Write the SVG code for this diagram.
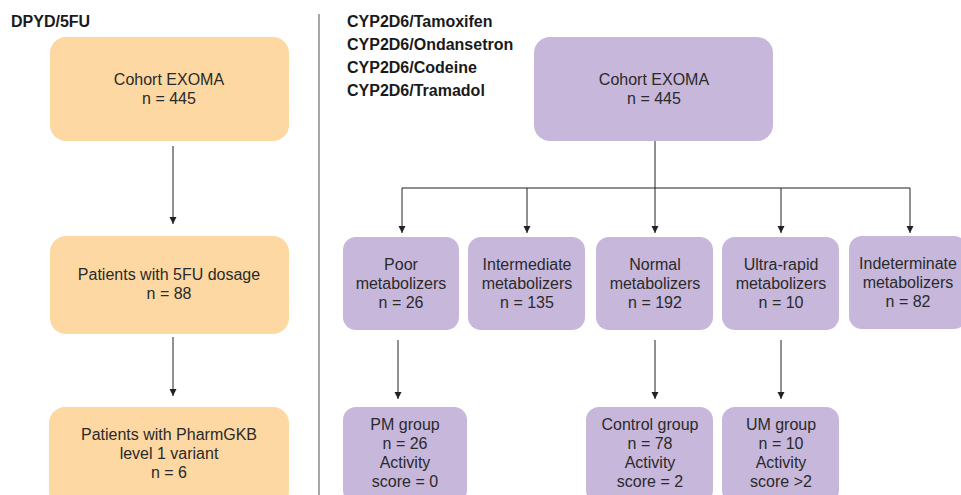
<svg xmlns="http://www.w3.org/2000/svg" width="961" height="495" viewBox="0 0 961 495">
<style>
.or{fill:#FDD8A2;}
.pu{fill:#C6B7DB;}
.t{font-family:"Liberation Sans",Arial,sans-serif;font-size:16px;fill:#2a2a2a;text-anchor:middle;}
.h{font-family:"Liberation Sans",Arial,sans-serif;font-size:16px;font-weight:bold;fill:#1a1a1a;}
.c{stroke:#222;stroke-width:1;fill:none;}
</style>
<defs>
<marker id="ah" viewBox="0 0 10 10" refX="10" refY="5" markerWidth="7" markerHeight="9" markerUnits="userSpaceOnUse" orient="auto">
<path d="M0,0 L10,5 L0,10 Z" fill="#222"/>
</marker>
</defs>
<rect width="961" height="495" fill="#fff"/>
<line x1="319" y1="14" x2="319" y2="495" stroke="#777" stroke-width="1.3"/>
<text class="h" x="11" y="27">DPYD/5FU</text>
<text class="h" x="347" y="27">CYP2D6/Tamoxifen</text>
<text class="h" x="347" y="50">CYP2D6/Ondansetron</text>
<text class="h" x="347" y="73">CYP2D6/Codeine</text>
<text class="h" x="347" y="96">CYP2D6/Tramadol</text>
<g id="connectors">
<line class="c" x1="173" y1="146" x2="173" y2="224" marker-end="url(#ah)"/>
<line class="c" x1="173" y1="337" x2="173" y2="396" marker-end="url(#ah)"/>
<line class="c" x1="655" y1="141" x2="655" y2="188"/>
<line class="c" x1="402" y1="188" x2="910" y2="188"/>
<line class="c" x1="402" y1="188" x2="402" y2="233" marker-end="url(#ah)"/>
<line class="c" x1="527" y1="188" x2="527" y2="233" marker-end="url(#ah)"/>
<line class="c" x1="655" y1="188" x2="655" y2="233" marker-end="url(#ah)"/>
<line class="c" x1="781" y1="188" x2="781" y2="233" marker-end="url(#ah)"/>
<line class="c" x1="910" y1="188" x2="910" y2="233" marker-end="url(#ah)"/>
<line class="c" x1="398" y1="340" x2="398" y2="399" marker-end="url(#ah)"/>
<line class="c" x1="655" y1="340" x2="655" y2="399" marker-end="url(#ah)"/>
<line class="c" x1="781" y1="340" x2="781" y2="399" marker-end="url(#ah)"/>
</g>
<g id="dpyd-cohort">
<rect class="or" x="50" y="37" width="239" height="104" rx="16"/>
<text class="t" x="169" y="85">Cohort EXOMA</text>
<text class="t" x="169" y="104">n = 445</text>
</g>
<g id="dpyd-5fu">
<rect class="or" x="50" y="236" width="239" height="98" rx="16"/>
<text class="t" x="169" y="280">Patients with 5FU dosage</text>
<text class="t" x="169" y="299">n = 88</text>
</g>
<g id="dpyd-pharmgkb">
<rect class="or" x="49" y="407" width="240" height="100" rx="16"/>
<text class="t" x="169" y="440">Patients with PharmGKB</text>
<text class="t" x="169" y="459">level 1 variant</text>
<text class="t" x="169" y="478">n = 6</text>
</g>
<g id="cyp-cohort">
<rect class="pu" x="534" y="37" width="239" height="104" rx="16"/>
<text class="t" x="654" y="85">Cohort EXOMA</text>
<text class="t" x="654" y="104">n = 445</text>
</g>
<g id="poor">
<rect class="pu" x="343" y="237" width="116" height="93" rx="13"/>
<text class="t" x="401" y="270">Poor</text>
<text class="t" x="401" y="289">metabolizers</text>
<text class="t" x="401" y="308">n = 26</text>
</g>
<g id="intermediate">
<rect class="pu" x="468" y="237" width="117" height="93" rx="13"/>
<text class="t" x="527" y="270">Intermediate</text>
<text class="t" x="527" y="289">metabolizers</text>
<text class="t" x="527" y="308">n = 135</text>
</g>
<g id="normal">
<rect class="pu" x="596" y="237" width="117" height="93" rx="13"/>
<text class="t" x="655" y="270">Normal</text>
<text class="t" x="655" y="289">metabolizers</text>
<text class="t" x="655" y="308">n = 192</text>
</g>
<g id="ultra">
<rect class="pu" x="722" y="237" width="117" height="93" rx="13"/>
<text class="t" x="781" y="270">Ultra-rapid</text>
<text class="t" x="781" y="289">metabolizers</text>
<text class="t" x="781" y="308">n = 10</text>
</g>
<g id="indeterminate">
<rect class="pu" x="849" y="236" width="118" height="93" rx="13"/>
<text class="t" x="908" y="269">Indeterminate</text>
<text class="t" x="908" y="288">metabolizers</text>
<text class="t" x="908" y="307">n = 82</text>
</g>
<g id="pm-group">
<rect class="pu" x="343" y="407" width="124" height="96" rx="13"/>
<text class="t" x="405" y="430">PM group</text>
<text class="t" x="405" y="449">n = 26</text>
<text class="t" x="405" y="468">Activity</text>
<text class="t" x="405" y="487">score = 0</text>
</g>
<g id="control-group">
<rect class="pu" x="586" y="407" width="127" height="96" rx="13"/>
<text class="t" x="650" y="430">Control group</text>
<text class="t" x="650" y="449">n = 78</text>
<text class="t" x="650" y="468">Activity</text>
<text class="t" x="650" y="487">score = 2</text>
</g>
<g id="um-group">
<rect class="pu" x="722" y="407" width="117" height="96" rx="13"/>
<text class="t" x="781" y="430">UM group</text>
<text class="t" x="781" y="449">n = 10</text>
<text class="t" x="781" y="468">Activity</text>
<text class="t" x="781" y="487">score &gt;2</text>
</g>
</svg>
